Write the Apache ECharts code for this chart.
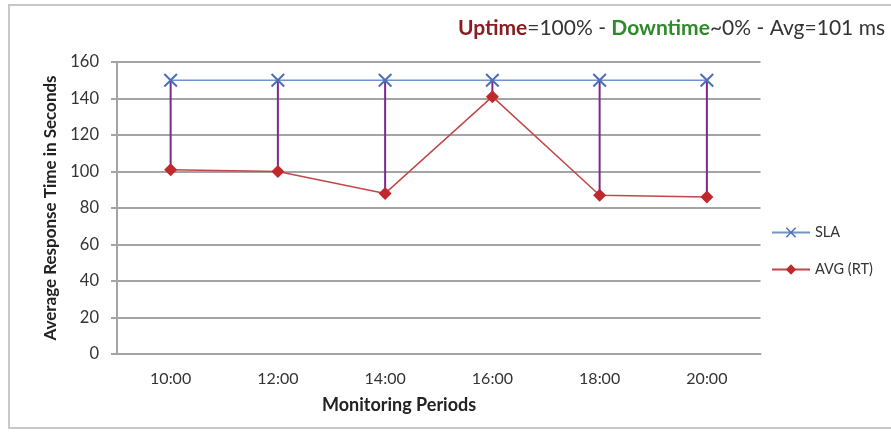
<!DOCTYPE html>
<html>
<head>
<meta charset="utf-8">
<script src="https://cdn.jsdelivr.net/npm/echarts@6/dist/echarts.min.js"></script>
<style>
  html, body { margin: 0; padding: 0; background: #fff; }
  #frame { position: absolute; left: 8px; top: 4px; width: 900px; height: 425px; border: 2px solid #c8c8c8; box-sizing: border-box; }
  #chart { position: absolute; left: 0; top: 0; width: 891px; height: 432px; }
</style>
</head>
<body>
<div id="frame"></div>
<div id="chart"></div>
<script>
// Monitoring periods (x axis categories)
const periods = ['10:00', '12:00', '14:00', '16:00', '18:00', '20:00'];
// Service level target, seconds
const slaValues = [150, 150, 150, 150, 150, 150];
// Average response time per period
const avgValues = [101, 100, 88, 141, 87, 86];
// Y axis ticks
const yMin = 0, yMax = 160, yStep = 20;

const FONT = 'Lato, "Open Sans", sans-serif';
const GRID_COLOR = '#a4a4a4';

// High-low connectors between SLA and average at each period
const hiLo = periods.map((p, i) => [i, avgValues[i], slaValues[i]]);

const crossSymbol = 'path://M0,1 L1,0 L5,4 L9,0 L10,1 L6,5 L10,9 L9,10 L5,6 L1,10 L0,9 L4,5 Z';

const chart = echarts.init(document.getElementById('chart'), null, { renderer: 'canvas' });
chart.setOption({
  backgroundColor: 'transparent',
  animation: false,
  textStyle: { fontFamily: FONT },
  title: {
    right: 1,
    top: 13,
    text: '{up|Uptime}{n|=100% - }{down|Downtime}{n|~0% - Avg=101 ms}',
    textStyle: {
      fontWeight: 'normal',
      rich: {
        up: { fontFamily: FONT, fontSize: 21, fontWeight: 'bold', color: '#8a1c22' },
        down: { fontFamily: FONT, fontSize: 21, fontWeight: 'bold', color: '#2e8a2a' },
        n: { fontFamily: FONT, fontSize: 21, fontWeight: 'normal', color: '#333333' }
      }
    }
  },
  legend: {
    orient: 'vertical',
    left: 766,
    top: 220,
    itemWidth: 38,
    itemHeight: 13,
    itemGap: 22,
    textStyle: { fontFamily: FONT, fontSize: 14.5, color: '#333' },
    data: ['SLA', 'AVG (RT)']
  },
  grid: { left: 117, right: 130.5, top: 62, bottom: 78, containLabel: false },
  xAxis: {
    type: 'category',
    data: periods,
    boundaryGap: true,
    axisLine: { lineStyle: { color: GRID_COLOR, width: 2 } },
    axisTick: { show: false },
    axisLabel: { margin: 17, fontSize: 16, color: '#333', fontFamily: FONT }
  },
  yAxis: {
    type: 'value',
    min: yMin,
    max: yMax,
    interval: yStep,
    name: 'Average Response Time in Seconds',
    nameLocation: 'middle',
    nameGap: 54,
    nameTextStyle: { fontSize: 17, fontWeight: 'bold', color: '#222', fontFamily: FONT },
    axisLine: { show: true, lineStyle: { color: GRID_COLOR, width: 2 } },
    axisTick: { show: true, length: 6, lineStyle: { color: GRID_COLOR, width: 2 } },
    axisLabel: { margin: 18, fontSize: 16.5, color: '#333', fontFamily: FONT },
    splitLine: { lineStyle: { color: GRID_COLOR, width: 2 } }
  },
  graphic: [{
    type: 'text',
    left: 322,
    top: 396,
    style: { text: 'Monitoring Periods', font: 'bold 18px ' + FONT, fill: '#222' }
  }],
  series: [
    {
      type: 'custom',
      name: 'hilo',
      silent: true,
      z: 1,
      data: hiLo,
      renderItem: function (params, api) {
        const top = api.coord([api.value(0), api.value(2)]);
        const bot = api.coord([api.value(0), api.value(1)]);
        return {
          type: 'line',
          shape: { x1: top[0], y1: top[1], x2: bot[0], y2: bot[1] },
          style: { stroke: '#7a2a8e', lineWidth: 2 }
        };
      }
    },
    {
      type: 'line',
      name: 'SLA',
      data: slaValues,
      z: 3,
      symbol: crossSymbol,
      symbolSize: 14,
      lineStyle: { color: '#6f95cc', width: 1.5 },
      itemStyle: { color: '#4a6fb8' }
    },
    {
      type: 'line',
      name: 'AVG (RT)',
      data: avgValues,
      z: 4,
      symbol: 'diamond',
      symbolSize: 13,
      lineStyle: { color: '#c0484a', width: 1.5 },
      itemStyle: { color: '#c0282c' }
    }
  ]
});
</script>
</body>
</html>
